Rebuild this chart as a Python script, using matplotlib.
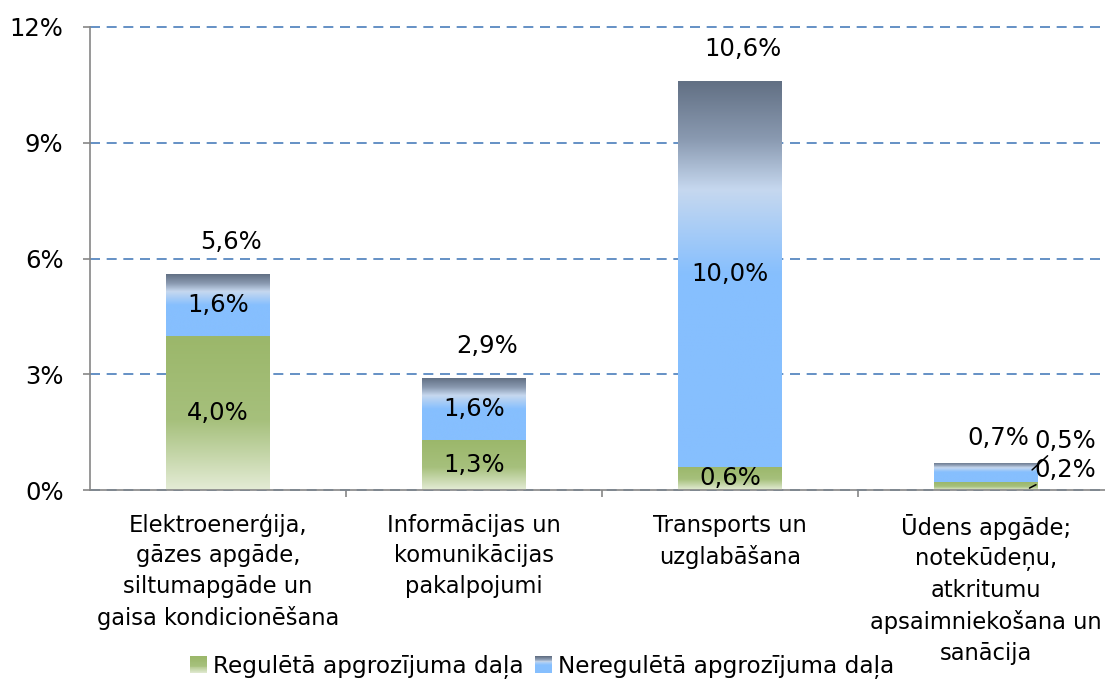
import numpy as np
import matplotlib.pyplot as plt
from matplotlib.colors import LinearSegmentedColormap
from matplotlib.legend_handler import HandlerBase
from matplotlib.patches import Rectangle

categories = [
    "Elektroenerģija,\ngāzes apgāde,\nsiltumapgāde un\ngaisa kondicionēšana",
    "Informācijas un\nkomunikācijas\npakalpojumi",
    "Transports un\nuzglabāšana",
    "Ūdens apgāde;\nnotekūdeņu,\natkritumu\napsaimniekošana un\nsanācija",
]
regulated = [4.0, 1.3, 0.6, 0.2]
unregulated = [1.6, 1.6, 10.0, 0.5]
totals = [5.6, 2.9, 10.6, 0.7]
series_names = ["Regulētā apgrozījuma daļa", "Neregulētā apgrozījuma daļa"]
yticks = [0, 3, 6, 9, 12]

plt.rcParams['font.family'] = ['DejaVu Sans']

green_cmap = LinearSegmentedColormap.from_list(
    "green", [(0.0, "#e4ecd6"), (0.45, "#a6c07c"), (1.0, "#9bb76a")])
blue_cmap = LinearSegmentedColormap.from_list(
    "blue", [(0.0, "#86bffe"), (0.5, "#86bffe"), (0.72, "#c6d8ef"),
             (0.85, "#8a9ab1"), (1.0, "#627084")])


def fill_gradient(ax, patch, cmap):
    x0, y0 = patch.get_x(), patch.get_y()
    w, h = patch.get_width(), patch.get_height()
    grad = np.linspace(0, 1, 256).reshape(-1, 1)
    im = ax.imshow(grad, cmap=cmap, origin='lower', aspect='auto',
                   extent=[x0, x0 + w, y0, y0 + h], zorder=2,
                   interpolation='bilinear')
    im.set_clip_path(patch)


class GradientHandler(HandlerBase):
    def __init__(self, cmap):
        super().__init__()
        self.cmap = cmap

    def create_artists(self, legend, orig_handle, xdescent, ydescent,
                       width, height, fontsize, trans):
        n = 20
        side = height
        x = -xdescent + (width - side)
        arts = []
        for i in range(n):
            r = Rectangle((x, -ydescent + side * i / n), side, side / n + 0.3,
                          facecolor=self.cmap(i / (n - 1)), edgecolor='none',
                          transform=trans)
            arts.append(r)
        return arts


fig = plt.figure(figsize=(11.05, 6.83), dpi=100)
ax = fig.add_axes([90 / 1105, 1 - 490 / 683, 1024 / 1105, 463 / 683])

x = np.arange(len(categories))
width = 0.406
bars_reg = ax.bar(x, regulated, width, facecolor='none', edgecolor='none', zorder=2)
bars_unreg = ax.bar(x, unregulated, width, bottom=regulated, facecolor='none',
                    edgecolor='none', zorder=2)
for p in bars_reg:
    fill_gradient(ax, p, green_cmap)
for p in bars_unreg:
    fill_gradient(ax, p, blue_cmap)

ax.set_xlim(-0.5, len(categories) - 0.5)
ax.set_ylim(0, 12)
ax.set_yticks(yticks)
ax.set_yticklabels([f"{v}%" for v in yticks], fontsize=17.5)
ax.yaxis.grid(True, linestyle=(0, (6, 4)), color='#4a7ebb', linewidth=1.2, zorder=1)
for gl in ax.yaxis.get_gridlines():
    gl.set_clip_on(False)
ax.set_axisbelow(True)

ax.set_xticks(x)
ax.set_xticklabels(categories, fontsize=16.3, linespacing=1.43)
ax.tick_params(axis='x', length=0, pad=17)
ax.set_xticks(np.arange(len(categories) - 1) + 0.5, minor=True)
ax.tick_params(axis='x', which='minor', length=5, width=1.2, color='#868686')
ax.tick_params(axis='y', length=5, width=1.2, color='#868686', pad=14)

for s in ['top', 'right']:
    ax.spines[s].set_visible(False)
for s in ['left', 'bottom']:
    ax.spines[s].set_color('#868686')
    ax.spines[s].set_linewidth(1.2)

fmt = lambda v: f"{v:.1f}%".replace('.', ',')

for i in range(len(categories)):
    if i < 3:
        ax.text(x[i] + 0.05, totals[i] + 0.82, fmt(totals[i]), ha='center',
                va='center', fontsize=17.5, zorder=4)
        ax.text(x[i], regulated[i] / 2, fmt(regulated[i]), ha='center',
                va='center', fontsize=17.5, zorder=4)
        ax.text(x[i], regulated[i] + unregulated[i] / 2, fmt(unregulated[i]),
                ha='center', va='center', fontsize=17.5, zorder=4)

# small values on the last bar, labels pushed aside with leader lines
i = 3
ax.text(x[i] + 0.05, totals[i] + 0.65, fmt(totals[i]), ha='center', va='center',
        fontsize=17.5, zorder=4)
ax.annotate(fmt(unregulated[i]), xy=(x[i] + 0.18, regulated[i] + unregulated[i] * 0.64),
            xytext=(x[i] + 0.31, 1.27), ha='center', va='center', fontsize=17.5,
            arrowprops=dict(arrowstyle='-', color='black', lw=1.1, shrinkA=0, shrinkB=0,
                            relpos=(0.27, 0.02)),
            zorder=4, annotation_clip=False)
ax.annotate(fmt(regulated[i]), xy=(x[i] + 0.17, regulated[i] * 0.25),
            xytext=(x[i] + 0.31, 0.52), ha='center', va='center', fontsize=17.5,
            arrowprops=dict(arrowstyle='-', color='black', lw=1.1, shrinkA=0, shrinkB=0,
                            relpos=(0.2, 0.12)),
            zorder=4, annotation_clip=False)

h1 = Rectangle((0, 0), 1, 1)
h2 = Rectangle((0, 0), 1, 1)
fig.legend([h1, h2], series_names, loc='center', bbox_to_anchor=(542 / 1105, 1 - 667 / 683),
           ncol=2, frameon=False, fontsize=16.7, handlelength=0.75, handleheight=0.75,
           handletextpad=0.25, columnspacing=0.5,
           handler_map={h1: GradientHandler(green_cmap), h2: GradientHandler(blue_cmap)})

fig.savefig("out.png", dpi=100)
